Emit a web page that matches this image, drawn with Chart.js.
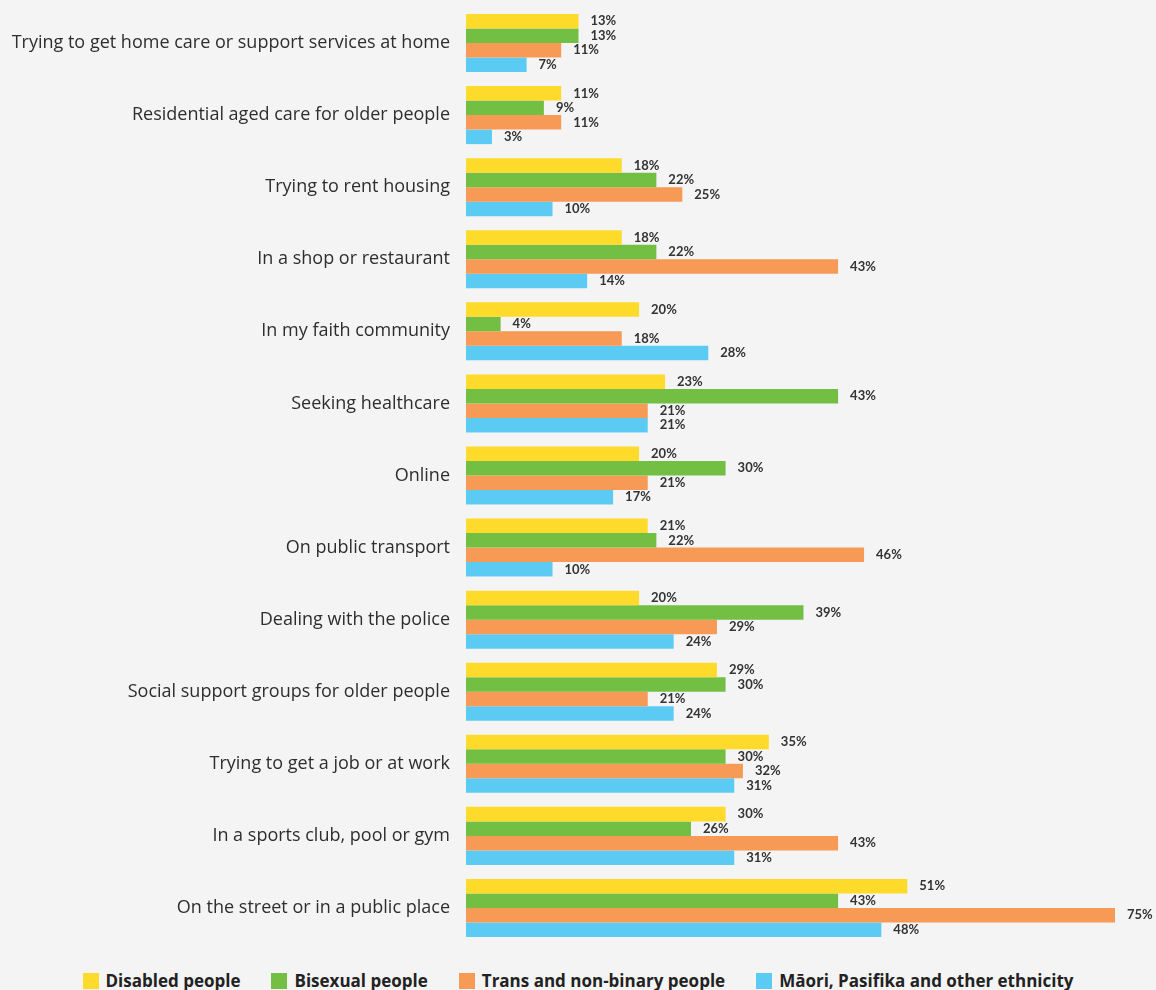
<!DOCTYPE html>
<html>
<head>
<meta charset="utf-8">
<script src="https://cdn.jsdelivr.net/npm/chart.js@4"></script>
<style>
  html, body { margin: 0; padding: 0; background: #f4f4f4; }
  #wrap { position: relative; width: 1156px; height: 990px; }
  #chart { position: absolute; left: 0; top: 0; }
  #legend {
    position: absolute; left: 0; top: 971px; width: 1156px;
    display: flex; justify-content: center; gap: 31px;
    font-family: "Open Sans", sans-serif; font-weight: 700; font-size: 17px;
    color: #222; line-height: 20px;
  }
  #legend .item { display: flex; align-items: center; }
  #legend .box { width: 16px; height: 16px; margin-right: 7px; }
</style>
</head>
<body>
<div id="wrap">
  <canvas id="chart" width="1156" height="950"></canvas>
  <div id="legend"></div>
</div>
<script>
const categories = [
  'Trying to get home care or support services at home',
  'Residential aged care for older people',
  'Trying to rent housing',
  'In a shop or restaurant',
  'In my faith community',
  'Seeking healthcare',
  'Online',
  'On public transport',
  'Dealing with the police',
  'Social support groups for older people',
  'Trying to get a job or at work',
  'In a sports club, pool or gym',
  'On the street or in a public place'
];

const disabled = [13, 11, 18, 18, 20, 23, 20, 21, 20, 29, 35, 30, 51];
const bisexual = [13, 9, 22, 22, 4, 43, 30, 22, 39, 30, 30, 26, 43];
const trans    = [11, 11, 25, 43, 18, 21, 21, 46, 29, 21, 32, 43, 75];
const maori    = [7, 3, 10, 14, 28, 21, 17, 10, 24, 24, 31, 31, 48];

const seriesNames = [
  'Disabled people',
  'Bisexual people',
  'Trans and non-binary people',
  'Māori, Pasifika and other ethnicity'
];
const seriesColors = ['#fedb2a', '#73bf44', '#f79a56', '#5ccbf4'];

const LABEL_FONT = '"Open Sans", sans-serif';
const VALUE_FONT = 'Lato, sans-serif';

// percentage labels just past the end of each bar
const valueLabels = {
  id: 'valueLabels',
  afterDatasetsDraw(chart) {
    const ctx = chart.ctx;
    ctx.save();
    ctx.font = 'bold 13px ' + VALUE_FONT;
    ctx.fillStyle = '#333333';
    ctx.textAlign = 'left';
    ctx.textBaseline = 'middle';
    chart.data.datasets.forEach((ds, i) => {
      chart.getDatasetMeta(i).data.forEach((bar, j) => {
        ctx.fillText(ds.data[j] + '%', bar.x + 12, bar.y);
      });
    });
    ctx.restore();
  }
};

const datasets = [disabled, bisexual, trans, maori].map((vals, i) => ({
  label: seriesNames[i],
  data: vals,
  backgroundColor: seriesColors[i],
  borderWidth: 0,
  categoryPercentage: 0.805,
  barPercentage: 1.0
}));

new Chart(document.getElementById('chart'), {
  type: 'bar',
  data: { labels: categories, datasets: datasets },
  options: {
    indexAxis: 'y',
    responsive: false,
    animation: false,
    layout: { padding: { top: 7, right: 41, bottom: 6, left: 0 } },
    plugins: {
      legend: { display: false },
      tooltip: { enabled: false }
    },
    scales: {
      x: {
        min: 0,
        max: 75,
        display: false
      },
      y: {
        grid: { display: false },
        border: { display: false },
        ticks: {
          color: '#2e2e2e',
          padding: 8,
          font: { family: LABEL_FONT, size: 18 }
        },
        afterFit(scale) {
          scale.width = 466;
          scale.paddingTop = 0;
          scale.paddingBottom = 0;
        }
      }
    }
  },
  plugins: [valueLabels]
});

// legend row under the chart
const legendEl = document.getElementById('legend');
seriesNames.forEach((name, i) => {
  const item = document.createElement('div');
  item.className = 'item';
  const box = document.createElement('span');
  box.className = 'box';
  box.style.background = seriesColors[i];
  const text = document.createElement('span');
  text.textContent = name;
  item.appendChild(box);
  item.appendChild(text);
  legendEl.appendChild(item);
});
</script>
</body>
</html>
